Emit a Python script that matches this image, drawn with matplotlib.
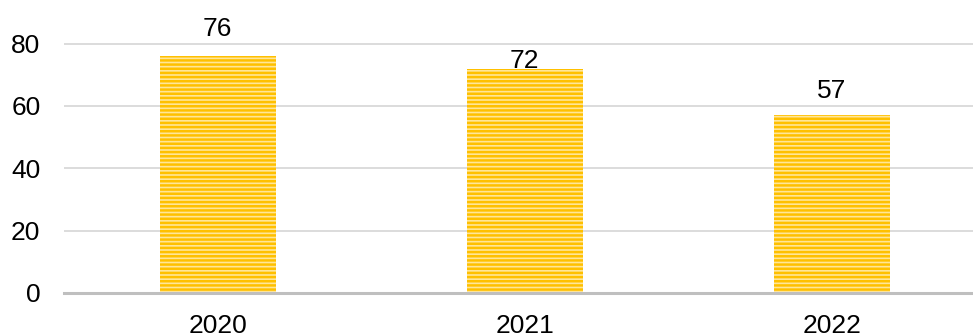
import matplotlib
matplotlib.use("Agg")
import matplotlib.pyplot as plt

years = ["2020", "2021", "2022"]
values = [76, 72, 57]
label_offsets_px = [15, -4, 12]  # gap between bar top and label box bottom

plt.rcParams['font.family'] = ['Liberation Sans', 'DejaVu Sans']
plt.rcParams['hatch.linewidth'] = 1.8

fig = plt.figure(figsize=(9.73, 3.36), dpi=100)
ax = fig.add_axes([64/973, 43/336, 1 - 64/973, 1 - 43/336])

x = list(range(len(years)))
ax.bar(x, values, width=0.378, color='#FFE699', edgecolor='#FFC000',
       hatch='----', linewidth=0, zorder=3)

for xi, v, off in zip(x, values, label_offsets_px):
    ax.annotate(str(v), (xi, v), xytext=(0, off * 0.72), textcoords='offset points',
                ha='center', va='bottom', fontsize=19, color='black', zorder=4)

ax.set_xlim(-0.5, 2.46)
ax.set_ylim(0, 94)
ax.set_yticks([0, 20, 40, 60, 80])
ax.set_xticks(x)
ax.set_xticklabels(years)
ax.tick_params(axis='both', length=0, labelsize=19, colors='black')
ax.tick_params(axis='y', pad=17)
ax.tick_params(axis='x', pad=15)
ax.yaxis.grid(True, color='#D9D9D9', linewidth=1.3, zorder=0)
for s in ['top', 'right', 'left']:
    ax.spines[s].set_visible(False)
ax.spines['bottom'].set_color('#BFBFBF')
ax.spines['bottom'].set_linewidth(2.2)
ax.spines['bottom'].set_zorder(5)

fig.savefig('out.png', dpi=100)
